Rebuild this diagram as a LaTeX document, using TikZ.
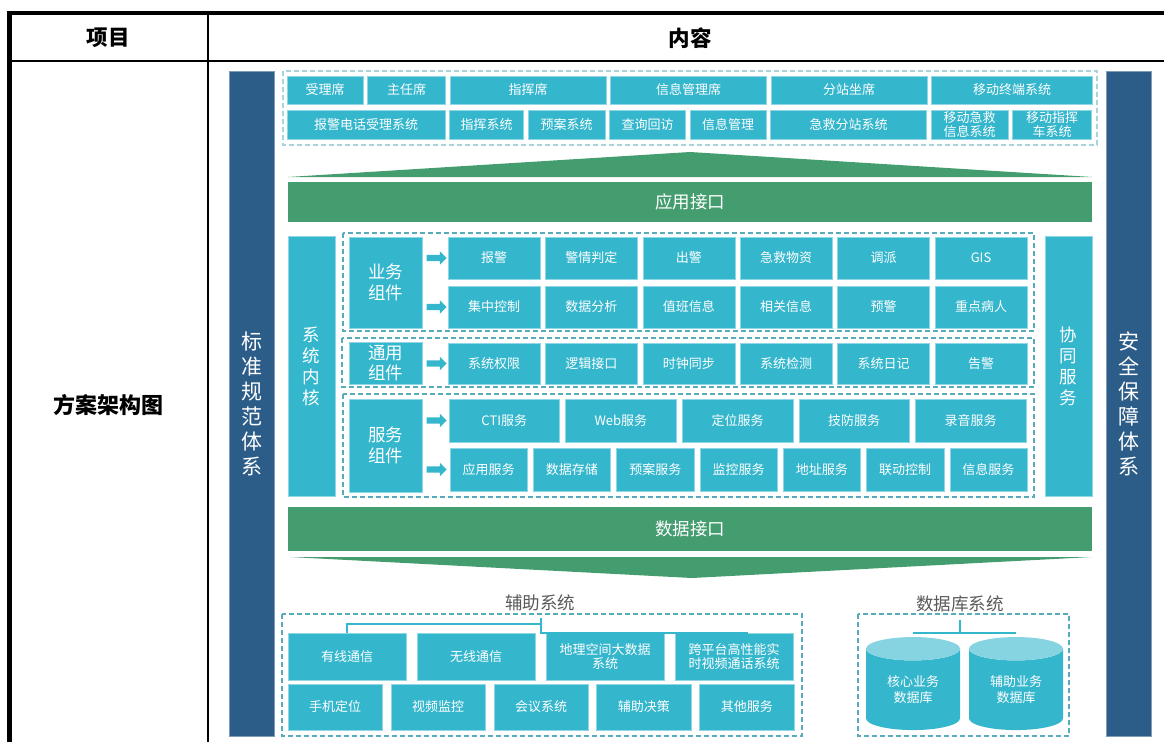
\documentclass[tikz,border=0pt]{standalone}
\usepackage{fontspec}
\setmainfont{Noto Sans CJK SC}
\usetikzlibrary{positioning, shapes.geometric, shapes.arrows}
\definecolor{cellblue}{HTML}{34B6CD}
\definecolor{celltop}{HTML}{86D3E2}
\definecolor{barblue}{HTML}{2C5C88}
\definecolor{bargreen}{HTML}{449D6F}
\definecolor{dashlight}{HTML}{A9D5DA}
\definecolor{dashdark}{HTML}{58ABBA}
\definecolor{labelgray}{HTML}{595959}

\begin{document}
\begin{tikzpicture}[x=1pt, y=-1pt, inner sep=0pt, outer sep=0pt,
  cell node/.style={rectangle, fill=cellblue, draw=cellblue!55!white, line width=0.6pt, text=white, align=center, font=\fontsize{13}{14.5}\selectfont},
  top cell/.style={cell node, minimum height=28pt},
  six cell/.style={cell node, minimum width=92pt, minimum height=42pt},
  five cell/.style={cell node, minimum width=110.6pt, minimum height=43pt},
  seven cell/.style={cell node, minimum width=77.3pt, minimum height=43pt},
  aux cell/.style={cell node, minimum width=118pt, minimum height=47pt},
  aux low cell/.style={cell node, minimum width=94.4pt, minimum height=46pt},
  side node/.style={rectangle, fill=barblue, draw=barblue!60!white, line width=0.6pt, text=white, align=center, minimum width=45pt, minimum height=665pt, font=\fontsize{21}{25}\selectfont},
  core node/.style={cell node, minimum width=47pt, minimum height=260pt, font=\fontsize{17.5}{21}\selectfont},
  group node/.style={cell node, minimum width=73pt, font=\fontsize{17.5}{20.5}\selectfont},
  green node/.style={rectangle, fill=bargreen, text=white, minimum width=804pt, font=\fontsize{17.5}{20}\selectfont},
  dash box/.style={draw=dashdark, line width=1.2pt, dash pattern=on 5pt off 3pt},
  go arrow/.style={single arrow, fill=cellblue, minimum height=20pt, inner sep=3pt, single arrow head extend=3.5pt},
  link/.style={draw=cellblue, line width=2.5pt},
  db node/.style={cylinder, shape border rotate=90, aspect=0.45, cylinder uses custom fill, cylinder body fill=cellblue, cylinder end fill=celltop, minimum width=94pt, minimum height=93pt, text=white, align=center, font=\fontsize{13}{16}\selectfont},
  head node/.style={font=\fontsize{21.5}{24}\selectfont\bfseries},
  title node/.style={text=labelgray, font=\fontsize{17.5}{20}\selectfont}]
  \useasboundingbox (0,0) rectangle (1164,742);

  % table frame
  \draw[line width=4pt] (7,13) -- (1164,13);
  \draw[line width=4.5pt] (9.5,11) -- (9.5,742);
  \draw[line width=2pt] (9.5,61) -- (1164,61);
  \draw[line width=2pt] (208,13) -- (208,742);
  \node[head node] (xm) at (108,38) {项目};
  \node[head node] (nr) at (690,38) {内容};
  \node[head node, font=\fontsize{22}{25}\selectfont\bfseries] (fa) at (108,405) {方案架构图};

  % side bars
  \node[side node, anchor=north west] (bzgf) at (229,71) {标\\准\\规\\范\\体\\系};
  \node[side node, anchor=north west] (aqbz) at (1106,71) {安\\全\\保\\障\\体\\系};

  % application layer
  \draw[dash box, draw=dashlight, line width=1.6pt] (283,71) rectangle (1097,145);
  \node[top cell, minimum width=76pt, anchor=north west] (slx) at (287,76) {受理席};
  \node[top cell, minimum width=78pt, right=4.5pt of slx] (zrx) {主任席};
  \node[top cell, minimum width=156pt, right=4.5pt of zrx] (zhx) {指挥席};
  \node[top cell, minimum width=156pt, right=4.5pt of zhx] (xxglx) {信息管理席};
  \node[top cell, minimum width=156pt, right=4.5pt of xxglx] (fzzx) {分站坐席};
  \node[top cell, minimum width=161pt, right=4.5pt of fzzx] (ydzd) {移动终端系统};
  \node[top cell, minimum height=29pt, minimum width=158pt, anchor=north west] (bjdh) at (287,110) {报警电话受理系统};
  \node[top cell, minimum height=29pt, minimum width=74pt, right=4.5pt of bjdh] (zhxt) {指挥系统};
  \node[top cell, minimum height=29pt, minimum width=77pt, right=4.5pt of zhxt] (yaxt) {预案系统};
  \node[top cell, minimum height=29pt, minimum width=76pt, right=4.5pt of yaxt] (cxhf) {查询回访};
  \node[top cell, minimum height=29pt, minimum width=76pt, right=4.5pt of cxhf] (xxgl) {信息管理};
  \node[top cell, minimum height=29pt, minimum width=156pt, right=4.5pt of xxgl] (jjfz) {急救分站系统};
  \node[top cell, minimum height=29pt, minimum width=77pt, right=4.5pt of jjfz] (ydjj) {移动急救\\信息系统};
  \node[top cell, minimum height=29pt, minimum width=79pt, right=4.5pt of ydjj] (ydzh) {移动指挥\\车系统};

  \fill[bargreen] (288,177) -- (690,152) -- (1092,177) -- cycle;
  \node[green node, minimum height=40pt, anchor=north west] (yyjk) at (288,182) {应用接口};

  % kernel
  \node[core node, anchor=north west] (xtnh) at (288,236) {系\\统\\内\\核};
  \node[core node, anchor=north west] (xtfw) at (1045,236) {协\\同\\服\\务};
  \draw[dash box] (343,233) rectangle (1034,331);
  \draw[dash box] (342,338) rectangle (1034,387);
  \draw[dash box] (343,394) rectangle (1034,497);

  \node[group node, minimum height=91pt, anchor=north west] (ywzj) at (349,237) {业务\\组件};
  \node[group node, minimum height=42pt, anchor=north west] (tyzj) at (349,342) {通用\\组件};
  \node[group node, minimum height=93pt, anchor=north west] (fwzj) at (349,399) {服务\\组件};
  \node[go arrow] (ar1) at (435,258) {};
  \node[go arrow] (ar2) at (435,307) {};
  \node[go arrow] (ar3) at (435,363.5) {};
  \node[go arrow] (ar4) at (435,420.5) {};
  \node[go arrow] (ar5) at (435,469.5) {};

  \node[six cell, anchor=north west] (bj) at (448,237) {报警};
  \node[six cell, right=5.4pt of bj] (jqpd) {警情判定};
  \node[six cell, right=5.4pt of jqpd] (cj) {出警};
  \node[six cell, right=5.4pt of cj] (jjwz) {急救物资};
  \node[six cell, right=5.4pt of jjwz] (dp) {调派};
  \node[six cell, right=5.4pt of dp] (gis) {GIS};
  \node[six cell, anchor=north west] (jzkz) at (448,286) {集中控制};
  \node[six cell, right=5.4pt of jzkz] (sjfx) {数据分析};
  \node[six cell, right=5.4pt of sjfx] (zbxx) {值班信息};
  \node[six cell, right=5.4pt of zbxx] (xgxx) {相关信息};
  \node[six cell, right=5.4pt of xgxx] (yj) {预警};
  \node[six cell, right=5.4pt of yj] (zdbr) {重点病人};

  \node[six cell, minimum height=41pt, anchor=north west] (xtqx) at (448,343) {系统权限};
  \node[six cell, minimum height=41pt, right=5.4pt of xtqx] (ljjk) {逻辑接口};
  \node[six cell, minimum height=41pt, right=5.4pt of ljjk] (szbt) {时钟同步};
  \node[six cell, minimum height=41pt, right=5.4pt of szbt] (xtjc) {系统检测};
  \node[six cell, minimum height=41pt, right=5.4pt of xtjc] (xtrj) {系统日记};
  \node[six cell, minimum height=41pt, right=5.4pt of xtrj] (gj) {告警};

  \node[five cell, anchor=north west] (cti) at (449,399) {CTI服务};
  \node[five cell, right=6pt of cti] (web) {Web服务};
  \node[five cell, right=6pt of web] (dwfw) {定位服务};
  \node[five cell, right=6pt of dwfw] (jffw) {技防服务};
  \node[five cell, right=6pt of jffw] (lyfw) {录音服务};
  \node[seven cell, anchor=north west] (yyfw) at (450,448) {应用服务};
  \node[seven cell, right=6pt of yyfw] (sjcc) {数据存储};
  \node[seven cell, right=6pt of sjcc] (yafw) {预案服务};
  \node[seven cell, right=6pt of yafw] (jkfw) {监控服务};
  \node[seven cell, right=6pt of jkfw] (dzfw) {地址服务};
  \node[seven cell, right=6pt of dzfw] (ldkz) {联动控制};
  \node[seven cell, right=6pt of ldkz] (xxfw) {信息服务};

  % data layer
  \node[green node, minimum height=44pt, anchor=north west] (sjjk) at (288,507) {数据接口};
  \fill[bargreen] (290,557) -- (692,578) -- (1092,557) -- cycle;

  \node[title node] (fzxt) at (540,603) {辅助系统};
  \draw[dash box] (282,614) rectangle (802,736);
  \node[aux cell, anchor=north west] (yxtx) at (288,633) {有线通信};
  \node[aux cell, right=11pt of yxtx] (wxtx) {无线通信};
  \node[aux cell, right=11pt of wxtx] (dlkj) {地理空间大数据\\系统};
  \node[aux cell, right=11pt of dlkj] (kpt) {跨平台高性能实\\时视频通话系统};
  \node[aux low cell, anchor=north west] (sjdw) at (288,684) {手机定位};
  \node[aux low cell, right=8.5pt of sjdw] (spjk) {视频监控};
  \node[aux low cell, right=8.5pt of spjk] (hyxt) {会议系统};
  \node[aux low cell, right=8.5pt of hyxt] (fzjc) {辅助决策};
  \node[aux low cell, right=8.5pt of fzjc] (qtfw) {其他服务};
  \coordinate (fzroot) at (541,618);
  \draw[link] (fzroot) -- ++(0,6) -| (yxtx.north);
  \draw[link] (fzroot) -- ++(0,15) -- ++(207,0);

  \node[title node] (sjkxt) at (960,604) {数据库系统};
  \draw[dash box] (858,614) rectangle (1069,736);
  \node[db node] (hxdb) at (913,689.5) {核心业务\\数据库};
  \node[db node] (fzdb) at (1016,689.5) {辅助业务\\数据库};
  \coordinate (sjroot) at (960,620);
  \draw[link] (sjroot) -- ++(0,13) coordinate (sjmid);
  \draw[link] (hxdb |- sjmid) -- (fzdb |- sjmid);
\end{tikzpicture}
\end{document}
